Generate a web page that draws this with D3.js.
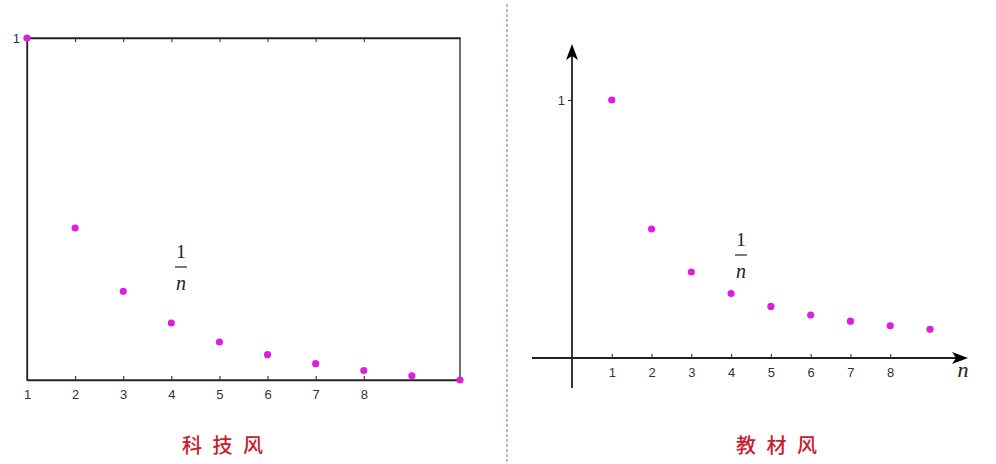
<!DOCTYPE html>
<html>
<head>
<meta charset="utf-8">
<script src="https://cdn.jsdelivr.net/npm/d3@7"></script>
<style>
  html, body { margin: 0; padding: 0; background: #fff; }
  svg { display: block; }
</style>
</head>
<body>
<script>
var leftN = [1, 2, 3, 4, 5, 6, 7, 8, 9, 10];
var leftVals = [1, 1 / 2, 1 / 3, 1 / 4, 1 / 5, 1 / 6, 1 / 7, 1 / 8, 1 / 9, 1 / 10];
var rightN = [1, 2, 3, 4, 5, 6, 7, 8, 9];
var rightVals = [1, 1 / 2, 1 / 3, 1 / 4, 1 / 5, 1 / 6, 1 / 7, 1 / 8, 1 / 9];
var xTickLabels = [1, 2, 3, 4, 5, 6, 7, 8];
var yTickLabels = [1];
var captions = ['科 技 风', '教 材 风'];

var w = 996,
    h = 464;

var dotColor = '#dc1fdf',
    axisColor = '#222';

var svg = d3.select('body').append('svg')
  .attr('width', w)
  .attr('height', h);

// divider
svg.append('line')
  .attr('x1', 507).attr('x2', 507)
  .attr('y1', 4).attr('y2', h)
  .attr('stroke', '#5a7f99')
  .attr('stroke-width', 1)
  .attr('stroke-dasharray', '3,2');

// ---- left panel (boxed) ----
var xL = d3.scaleLinear().domain([1, 10]).range([27, 460]),
    yL = d3.scaleLinear().domain([0.1, 1]).range([380, 38]);

var left = svg.append('g');

left.append('rect')
  .attr('x', xL(1))
  .attr('y', yL(1))
  .attr('width', xL(10) - xL(1))
  .attr('height', yL(0.1) - yL(1))
  .attr('fill', 'none')
  .attr('stroke', axisColor)
  .attr('stroke-width', 1.3);

left.append('g')
  .attr('transform', 'translate(0,' + yL(0.1) + ')')
  .call(d3.axisBottom(xL).tickValues(xTickLabels).tickSizeInner(-4).tickSizeOuter(0).tickPadding(10))
  .call(styleAxis);

left.append('g')
  .attr('transform', 'translate(0,' + yL(1) + ')')
  .call(d3.axisTop(xL).tickValues(xTickLabels.slice(1)).tickSizeInner(-4).tickSizeOuter(0).tickFormat(''))
  .call(styleAxis);

left.append('g')
  .attr('transform', 'translate(' + xL(1) + ',0)')
  .call(d3.axisLeft(yL).tickValues(yTickLabels).tickFormat(d3.format('d')).tickSize(0).tickPadding(7))
  .call(styleAxis);

left.selectAll('.dotL')
  .data(leftVals)
  .enter()
  .append('circle')
    .attr('cx', function(d, i) { return xL(leftN[i]); })
    .attr('cy', function(d) { return yL(d); })
    .attr('r', 3.6)
    .attr('fill', dotColor);

fraction(left, 181, 258);

// ---- right panel (textbook) ----
var xR = d3.scaleLinear().domain([0, 9]).range([572, 930]),
    yR = d3.scaleLinear().domain([0, 1]).range([358, 100]);

var right = svg.append('g');

right.append('line')
  .attr('x1', 532).attr('x2', 960)
  .attr('y1', yR(0)).attr('y2', yR(0))
  .attr('stroke', axisColor).attr('stroke-width', 1.8);

right.append('line')
  .attr('x1', xR(0)).attr('x2', xR(0))
  .attr('y1', 388).attr('y2', 52)
  .attr('stroke', axisColor).attr('stroke-width', 1.8);

// arrowheads
right.append('path')
  .attr('d', 'M968,' + yR(0) + ' L952,' + (yR(0) - 6) + ' L956,' + yR(0) + ' L952,' + (yR(0) + 6) + ' Z')
  .attr('fill', '#000');
right.append('path')
  .attr('d', 'M' + xR(0) + ',44 L' + (xR(0) - 6) + ',60 L' + xR(0) + ',56 L' + (xR(0) + 6) + ',60 Z')
  .attr('fill', '#000');

right.append('g')
  .attr('transform', 'translate(0,' + yR(0) + ')')
  .call(d3.axisBottom(xR).tickValues(xTickLabels).tickSizeInner(-4).tickSizeOuter(0).tickPadding(10))
  .call(styleAxis)
  .call(function(g) { g.select('.domain').remove(); });

right.append('g')
  .attr('transform', 'translate(' + xR(0) + ',0)')
  .call(d3.axisLeft(yR).tickValues(yTickLabels).tickFormat(d3.format('d')).tickSize(4).tickPadding(3))
  .call(styleAxis)
  .call(function(g) { g.select('.domain').remove(); });

right.selectAll('.dotR')
  .data(rightVals)
  .enter()
  .append('circle')
    .attr('cx', function(d, i) { return xR(rightN[i]); })
    .attr('cy', function(d) { return yR(d); })
    .attr('r', 3.6)
    .attr('fill', dotColor);

right.append('text')
  .text('n')
  .attr('x', 963)
  .attr('y', 377)
  .attr('text-anchor', 'middle')
  .style('font-family', '"Liberation Serif", "DejaVu Serif", serif')
  .style('font-style', 'italic')
  .style('font-size', '22px')
  .attr('fill', '#222');

fraction(right, 741, 246);

// captions
svg.selectAll('.caption')
  .data(captions)
  .enter()
  .append('text')
    .text(function(d) { return d; })
    .attr('x', function(d, i) { return i === 0 ? 224 : 778; })
    .attr('y', 453)
    .attr('text-anchor', 'middle')
    .attr('fill', '#c8202c')
    .style('white-space', 'pre')
    .style('letter-spacing', '3px')
    .style('font-family', '"Noto Sans CJK SC", sans-serif')
    .style('font-weight', '500')
    .style('font-size', '20px');

function styleAxis(g) {
  g.select('.domain').attr('stroke', axisColor).attr('stroke-width', 1.3);
  g.selectAll('.tick line').attr('stroke', axisColor).attr('stroke-width', 1);
  g.selectAll('.tick text')
    .attr('fill', '#333')
    .style('font-family', '"Liberation Sans", Arial, sans-serif')
    .style('font-size', '13px');
}

function fraction(g, cx, top) {
  var f = g.append('g').style('font-family', '"Liberation Serif", "DejaVu Serif", serif');
  f.append('text')
    .text('1')
    .attr('x', cx)
    .attr('y', top)
    .attr('text-anchor', 'middle')
    .style('font-size', '19px')
    .attr('fill', '#222');
  f.append('line')
    .attr('x1', cx - 6).attr('x2', cx + 6)
    .attr('y1', top + 9).attr('y2', top + 9)
    .attr('stroke', '#222').attr('stroke-width', 1.2);
  f.append('text')
    .text('n')
    .attr('x', cx)
    .attr('y', top + 32)
    .attr('text-anchor', 'middle')
    .style('font-style', 'italic')
    .style('font-size', '20px')
    .attr('fill', '#222');
}
</script>
</body>
</html>
